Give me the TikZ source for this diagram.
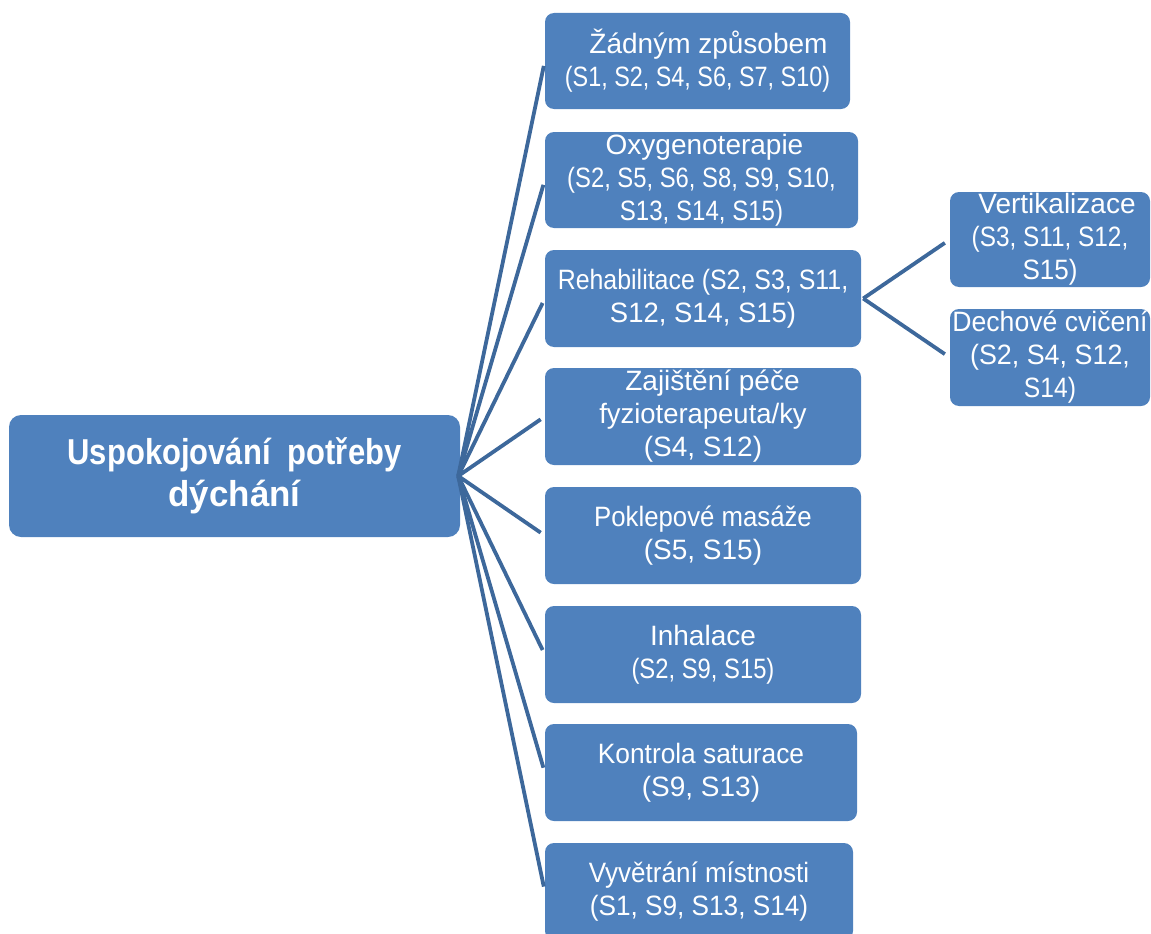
\documentclass[tikz,border=0pt]{standalone}
\usepackage{fontspec}
\usepackage{graphicx}
\setmainfont{Liberation Sans}
\usetikzlibrary{calc}
\definecolor{boxblue}{RGB}{79,129,189}
\definecolor{linkblue}{RGB}{61,104,155}
% horizontally squeezed line of text
\newcommand{\hsq}[2]{\scalebox{#1}[1]{#2}}
\begin{document}
\begin{tikzpicture}[x=1pt,y=-1pt,
  item/.style={draw=none,fill=boxblue,rounded corners=9pt,inner sep=0pt,
    text=white,align=center,font=\fontsize{28}{33}\selectfont},
  rootbox/.style={item,rounded corners=12pt,
    font=\fontsize{36}{42}\selectfont\bfseries},
  link/.style={draw=linkblue,line width=3.8pt,line cap=butt}]
\useasboundingbox (0,0) rectangle (1151,934);
\clip (0,0) rectangle (1151,934);

% central topic
\node[rootbox,minimum width=451pt,minimum height=122pt] (root) at (234.5,476)
  {\hsq{0.86}{Uspokojování\ \ potřeby}\\\hsq{0.97}{dýchání}};

% first level of interventions
\node[item,minimum width=305pt,minimum height=96pt] (c1) at (697.5,61)
  {\hspace*{22pt}Žádným způsobem\\\hsq{0.835}{(S1, S2, S4, S6, S7, S10)}};
\node[item,minimum width=313pt,minimum height=96pt] (c2) at (701.5,180)
  {\hspace*{6pt}Oxygenoterapie\\\hsq{0.85}{(S2, S5, S6, S8, S9, S10,}\\\hsq{0.86}{S13, S14, S15)}};
\node[item,minimum width=316pt,minimum height=97pt] (c3) at (703,298.5)
  {\hsq{0.89}{Rehabilitace (S2, S3, S11,}\\\hsq{0.98}{S12, S14, S15)}};
\node[item,minimum width=316pt,minimum height=97pt] (c4) at (703,416.5)
  {\hspace*{19pt}Zajištění péče\\\hsq{0.98}{fyzioterapeuta/ky}\\(S4, S12)};
\node[item,minimum width=316pt,minimum height=97pt] (c5) at (703,535.5)
  {\hsq{0.92}{Poklepové masáže}\\(S5, S15)};
\node[item,minimum width=316pt,minimum height=97pt] (c6) at (703,654.5)
  {Inhalace\\\hsq{0.85}{(S2, S9, S15)}};
\node[item,minimum width=312pt,minimum height=97pt] (c7) at (701,772.5)
  {\hsq{0.94}{Kontrola saturace}\\(S9, S13)};
\node[item,minimum width=308pt,minimum height=97pt] (c8) at (699,891.5)
  {\hsq{0.93}{Vyvětrání místnosti}\\\hsq{0.935}{(S1, S9, S13, S14)}};

% second level under rehabilitation
\node[item,minimum width=200pt,minimum height=95pt] (r1) at (1050,239.5)
  {\hspace*{14pt}Vertikalizace\\\hsq{0.87}{(S3, S11, S12,}\\\hsq{0.93}{S15)}};
\node[item,minimum width=200pt,minimum height=97pt] (r2) at (1050,357.5)
  {\hsq{0.95}{Dechové cvičení}\\\hsq{0.96}{(S2, S4, S12,}\\\hsq{0.88}{S14)}};

% connectors
\foreach \c in {c1,c2,c3,c4,c5,c6,c7,c8}
  \draw[link,shorten >=5pt] ($(root.east)+(-2,0)$) -- (\c.west);
\foreach \r in {r1,r2}
  \draw[link,shorten >=6pt] ($(c3.east)+(2,0)$) -- (\r.west);
\end{tikzpicture}
\end{document}
